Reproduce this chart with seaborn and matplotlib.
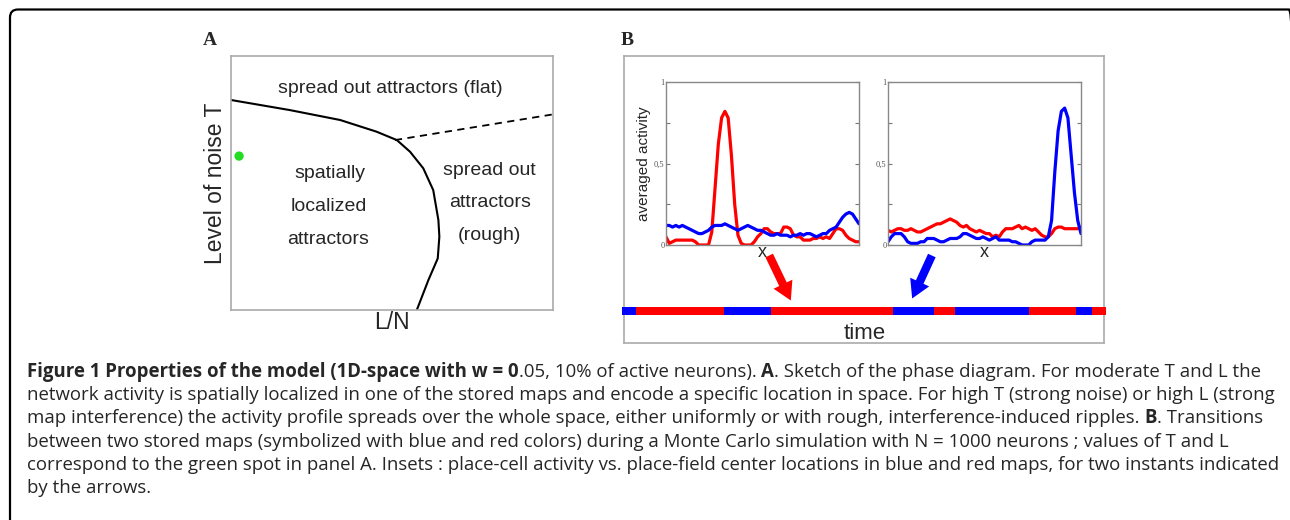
import numpy as np
import pandas as pd
import seaborn as sns
import matplotlib.pyplot as plt
from matplotlib.patches import FancyBboxPatch, FancyArrowPatch
from matplotlib.transforms import IdentityTransform

# ------------------------------
# Data
# ------------------------------
# Panel A: phase boundary (axes fraction units)
boundary_x = [0.0, 0.184, 0.340, 0.453, 0.516, 0.557, 0.598, 0.629, 0.645, 0.648, 0.643, 0.614, 0.578]
boundary_y = [0.827, 0.787, 0.748, 0.702, 0.669, 0.623, 0.558, 0.472, 0.354, 0.289, 0.203, 0.118, 0.0]
crossover_x = [0.510, 1.0]
crossover_y = [0.669, 0.770]
spot_x = [0.026]
spot_y = [0.606]

# Panel B insets: averaged activity vs place-field center x (60 samples on [0, 1])
inset1_red = [0.05, 0.01, 0.02, 0.03, 0.03, 0.03, 0.03, 0.03, 0.03, 0.02,
              0.00, 0.00, 0.00, 0.00, 0.08, 0.35, 0.62, 0.78, 0.82, 0.78,
              0.55, 0.25, 0.06, 0.01, 0.00, 0.00, 0.00, 0.02, 0.05, 0.07,
              0.10, 0.10, 0.08, 0.07, 0.07, 0.07, 0.11, 0.11, 0.10, 0.06,
              0.05, 0.05, 0.03, 0.03, 0.03, 0.04, 0.04, 0.05, 0.04, 0.05,
              0.04, 0.07, 0.10, 0.10, 0.09, 0.06, 0.04, 0.03, 0.02, 0.02]
inset1_blue = [0.12, 0.12, 0.11, 0.12, 0.11, 0.12, 0.11, 0.10, 0.09, 0.08,
               0.07, 0.07, 0.08, 0.09, 0.11, 0.12, 0.12, 0.12, 0.13, 0.12,
               0.11, 0.10, 0.09, 0.10, 0.11, 0.12, 0.11, 0.10, 0.09, 0.09,
               0.08, 0.07, 0.06, 0.06, 0.07, 0.06, 0.06, 0.06, 0.05, 0.06,
               0.06, 0.07, 0.06, 0.07, 0.07, 0.06, 0.05, 0.06, 0.07, 0.07,
               0.09, 0.10, 0.11, 0.14, 0.17, 0.19, 0.20, 0.19, 0.16, 0.13]
inset2_red = [0.09, 0.08, 0.09, 0.10, 0.10, 0.09, 0.09, 0.10, 0.09, 0.08,
              0.08, 0.09, 0.10, 0.11, 0.12, 0.13, 0.13, 0.14, 0.15, 0.16,
              0.15, 0.14, 0.12, 0.11, 0.12, 0.10, 0.09, 0.08, 0.09, 0.08,
              0.07, 0.07, 0.05, 0.06, 0.05, 0.08, 0.10, 0.10, 0.10, 0.11,
              0.12, 0.10, 0.11, 0.10, 0.09, 0.10, 0.08, 0.06, 0.05, 0.05,
              0.07, 0.10, 0.11, 0.11, 0.10, 0.10, 0.10, 0.10, 0.10, 0.11]
inset2_blue = [0.02, 0.05, 0.07, 0.07, 0.07, 0.05, 0.02, 0.01, 0.01, 0.01,
               0.02, 0.02, 0.04, 0.04, 0.04, 0.03, 0.02, 0.02, 0.03, 0.04,
               0.04, 0.04, 0.05, 0.07, 0.07, 0.06, 0.05, 0.04, 0.04, 0.05,
               0.04, 0.03, 0.04, 0.05, 0.03, 0.03, 0.03, 0.03, 0.02, 0.02,
               0.01, 0.00, 0.00, 0.00, 0.02, 0.03, 0.03, 0.03, 0.03, 0.05,
               0.15, 0.45, 0.70, 0.82, 0.84, 0.78, 0.55, 0.32, 0.15, 0.07]

# Panel B: which map is active along time
time_states = ['blue', 'red', 'blue', 'red', 'blue', 'red', 'blue', 'red', 'blue', 'red']
time_durations = [14.3, 88.0, 47.0, 121.7, 41.6, 21.0, 73.7, 47.0, 15.7, 14.3]

RED = '#ff0000'
BLUE = '#0000ff'
W, H = 1290, 520


def box(l, t, r, b):
    # pixel box (from top-left) -> figure fraction rect
    return [l / W, 1 - b / H, (r - l) / W, (b - t) / H]


sns.set_theme(style='white')
plt.rcParams['font.family'] = ['Liberation Sans', 'DejaVu Sans']

fig = plt.figure(figsize=(W / 100, H / 100), dpi=100)

# ------------------------------
# Outer frame with rounded corner
# ------------------------------
frame = FancyBboxPatch((10, -40), 1287, 550.5, boxstyle='round,pad=0,rounding_size=8',
                       transform=IdentityTransform(), fill=False, ec='black', lw=1.6)
fig.add_artist(frame)

# ------------------------------
# Panel A: phase diagram sketch
# ------------------------------
axA = fig.add_axes(box(230.7, 56, 552.7, 310))
sns.lineplot(x=boundary_x, y=boundary_y, ax=axA, color='black', lw=1.5, sort=False, estimator=None)
sns.lineplot(x=crossover_x, y=crossover_y, ax=axA, color='black', lw=1.3, linestyle=(0, (4, 3)),
             sort=False, estimator=None)
sns.scatterplot(x=spot_x, y=spot_y, ax=axA, color='#22dd22', s=45, edgecolor='none')
axA.set_xlim(0, 1)
axA.set_ylim(0, 1)
axA.set_xticks([])
axA.set_yticks([])
for sp in axA.spines.values():
    sp.set_color('#aaaaaa')
    sp.set_linewidth(1.2)
axA.set_xlabel('L/N', fontsize=16.5, labelpad=1)
axA.set_ylabel('Level of noise T', fontsize=16.5, labelpad=3)

region_kw = dict(fontsize=14, ha='center', va='center', transform=axA.transAxes)
axA.text(0.495, 0.873, 'spread out attractors (flat)', **region_kw)
axA.text(0.308, 0.538, 'spatially', **region_kw)
axA.text(0.306, 0.407, 'localized', **region_kw)
axA.text(0.303, 0.276, 'attractors', **region_kw)
axA.text(0.803, 0.551, 'spread out', **region_kw)
axA.text(0.805, 0.423, 'attractors', **region_kw)
axA.text(0.805, 0.295, '(rough)', **region_kw)

fig.text(203 / W, 1 - 45 / H, 'A', fontsize=14, fontweight='bold', family='Liberation Serif')
fig.text(621 / W, 1 - 45 / H, 'B', fontsize=14, fontweight='bold', family='Liberation Serif')

# ------------------------------
# Panel B: frame, insets and time bar
# ------------------------------
axB = fig.add_axes(box(624, 56, 1104, 343))
axB.set_xticks([])
axB.set_yticks([])
for sp in axB.spines.values():
    sp.set_color('#aaaaaa')
    sp.set_linewidth(1.2)
axB.text(0.502, 0.014, 'time', fontsize=16, ha='center', va='baseline', transform=axB.transAxes)


def draw_inset(rect, red, blue, ylabel):
    ax = fig.add_axes(rect)
    xs = np.linspace(0, 1, len(red))
    df = pd.DataFrame({'x': np.concatenate([xs, xs]),
                       'y': red + blue,
                       'map': ['red'] * len(red) + ['blue'] * len(blue)})
    sns.lineplot(data=df, x='x', y='y', hue='map', palette={'red': RED, 'blue': BLUE},
                 ax=ax, lw=2.3, legend=False, estimator=None)
    ax.set_xlim(0, 1)
    ax.set_ylim(0, 1)
    ax.set_xticks([])
    ax.set_yticks([0, 0.5, 1])
    ax.set_yticklabels(['0', '0,5', '1'], family='Liberation Serif', fontsize=6, color='#555555')
    ax.set_yticks([0.25, 0.75], minor=True)
    ax.tick_params(axis='y', which='both', direction='in', length=3, width=0.8, color='#777777',
                   left=True, right=True, pad=1)
    for sp in ax.spines.values():
        sp.set_color('#888888')
        sp.set_linewidth(1.0)
    ax.set_xlabel('x', fontsize=13, labelpad=-1)
    ax.set_ylabel(ylabel, fontsize=11, labelpad=2)
    return ax


draw_inset(box(666, 82, 859, 245), inset1_red, inset1_blue, 'averaged activity')
draw_inset(box(888, 82, 1081, 245), inset2_red, inset2_blue, '')

axT = fig.add_axes(box(621.7, 307, 1106, 315))
lefts = np.concatenate([[0], np.cumsum(time_durations)[:-1]])
axT.barh([0] * len(time_durations), time_durations, left=lefts, height=1.0,
         color=[RED if s == 'red' else BLUE for s in time_states], linewidth=0)
axT.set_xlim(0, sum(time_durations))
axT.set_ylim(-0.5, 0.5)
axT.axis('off')

# arrows pointing from insets to instants in the time bar
for (x0, y0), (x1, y1), c in [((768, 253), (792, 303), RED), ((933, 253), (911, 301), BLUE)]:
    arr = FancyArrowPatch((x0, H - y0), (x1, H - y1), transform=IdentityTransform(),
                          arrowstyle='simple,head_length=1.3,head_width=1.5,tail_width=0.6',
                          mutation_scale=10, color=c, lw=0)
    fig.add_artist(arr)

# ------------------------------
# Caption with bold runs
# ------------------------------
CAP_FONT = ['Open Sans', 'DejaVu Sans']
renderer = fig.canvas.get_renderer()


def run_width(txt, bold, size):
    # measure with a sentinel so trailing spaces are counted
    w = []
    for s in (txt + '|', '|'):
        t = fig.text(0, 0, s, fontsize=size, family=CAP_FONT,
                     fontweight='bold' if bold else 'normal')
        w.append(t.get_window_extent(renderer=renderer).width)
        t.remove()
    return w[0] - w[1]


def put_line(x_px, base_px, runs, size):
    for txt, bold in runs:
        fig.text(x_px / W, 1 - base_px / H, txt, fontsize=size, family=CAP_FONT,
                 fontweight='bold' if bold else 'normal', va='baseline', ha='left')
        x_px += run_width(txt, bold, size)


caption = [
    [('Figure 1 Properties of the model (1D-space with w = 0', True),
     ('.05, 10% of active neurons). ', False), ('A', True),
     ('. Sketch of the phase diagram. For moderate T and L the', False)],
    [('network activity is spatially localized in one of the stored maps and encode a specific '
      'location in space. For high T (strong noise) or high L (strong', False)],
    [('map interference) the activity profile spreads over the whole space, either uniformly or '
      'with rough, interference-induced ripples. ', False), ('B', True), ('. Transitions', False)],
    [('between two stored maps (symbolized with blue and red colors) during a Monte Carlo '
      'simulation with N = 1000 neurons ; values of T and L', False)],
    [('correspond to the green spot in panel A. Insets : place-cell activity vs. place-field '
      'center locations in blue and red maps, for two instants indicated', False)],
    [('by the arrows.', False)],
]

# size the caption so the second (plain) line spans about the same width as in the figure
base_size = 12.0
line2_w = sum(run_width(t, b, base_size) for t, b in caption[1])
cap_size = base_size * (1266 - 27) / line2_w

for i, runs in enumerate(caption):
    put_line(27, 377 + i * 23.2, runs, cap_size)

plt.savefig('out.png', dpi=100)
